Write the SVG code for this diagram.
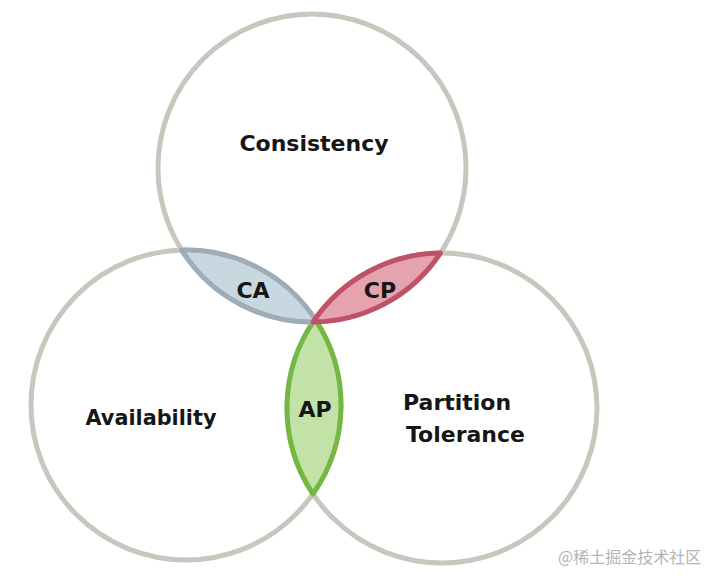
<svg xmlns="http://www.w3.org/2000/svg" width="710" height="582" viewBox="0 0 710 582">
<style>
.circ{fill:none;stroke:#c6c8be;stroke-width:5}
.lbl{font-family:"DejaVu Sans","Liberation Sans",sans-serif;font-weight:bold;font-size:22px;fill:#161616}
.lens{stroke-width:5;stroke-linejoin:round}
.wm{font-family:"Noto Sans CJK SC","Noto Sans",sans-serif;font-size:16px;fill:#b4b4b4}
</style>
<rect width="710" height="582" fill="#ffffff"/>
<g id="consistency">
<circle class="circ" cx="312" cy="168" r="154"/>
<text class="lbl" x="314" y="151" text-anchor="middle">Consistency</text>
</g>
<g id="availability">
<circle class="circ" cx="186" cy="405" r="155"/>
<text class="lbl" x="151" y="425" text-anchor="middle" textLength="131" lengthAdjust="spacingAndGlyphs">Availability</text>
</g>
<g id="partition-tolerance">
<circle class="circ" cx="442" cy="408" r="155"/>
<text class="lbl" x="403" y="410">Partition</text>
<text class="lbl" x="406" y="442">Tolerance</text>
</g>
<g id="AP">
<path class="lens" fill="#c3e2a8" stroke="#74b843" d="M315.02,319.1 A155,155 0 0 1 312.98,493.9 A155,155 0 0 1 315.02,319.1 Z"/>
<text class="lbl" x="315" y="417" text-anchor="middle">AP</text>
</g>
<g id="CA">
<path class="lens" fill="#c8d8e1" stroke="#9eacb8" d="M181.7,250.1 A154,154 0 0 0 316.9,321.9 A155,155 0 0 0 181.7,250.1 Z"/>
<text class="lbl" x="253" y="298" text-anchor="middle">CA</text>
</g>
<g id="CP">
<path class="lens" fill="#e4a3ad" stroke="#bf5266" d="M440.4,253 A154,154 0 0 1 313.05,322 A155,155 0 0 1 440.4,253 Z"/>
<text class="lbl" x="380" y="298" text-anchor="middle">CP</text>
</g>
<g id="connectors"></g>
<text class="wm" x="558" y="563">@稀土掘金技术社区</text>
</svg>
